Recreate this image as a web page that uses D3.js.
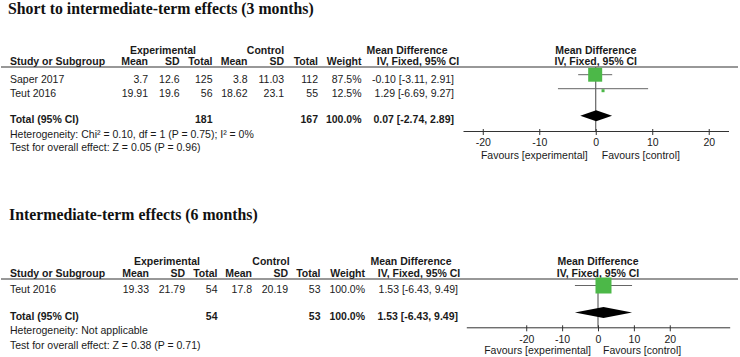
<!DOCTYPE html>
<html><head><meta charset="utf-8">
<script src="https://cdn.jsdelivr.net/npm/d3@7"></script>
<style>
html,body{margin:0;padding:0;background:#fff;}
svg{display:block;}
text{font-family:"Liberation Sans",Arial,sans-serif;font-size:10.5px;fill:#1a1a1a;}
.b{font-weight:bold;}
.title{font-family:"Liberation Serif","Times New Roman",serif;font-size:15.8px;font-weight:bold;fill:#111;}
</style></head>
<body>
<svg id="c" width="740" height="357"></svg>
<script>
// ---------- Data: panel 1 (3 months) ----------
const title3 = "Short to intermediate-term effects (3 months)";
const studies3 = ["Saper 2017", "Teut 2016"];
const expMean3 = ["3.7", "19.91"];
const expSD3 = ["12.6", "19.6"];
const expN3 = [125, 56];
const ctlMean3 = ["3.8", "18.62"];
const ctlSD3 = ["11.03", "23.1"];
const ctlN3 = [112, 55];
const weight3 = [87.5, 12.5];
const md3 = [-0.10, 1.29];
const lo3 = [-3.11, -6.69];
const hi3 = [2.91, 9.27];
const total3 = [0.07, -2.74, 2.89];   // md, lo, hi
const totalN3 = [181, 167];
const het3 = "Heterogeneity: Chi² = 0.10, df = 1 (P = 0.75); I² = 0%";
const test3 = "Test for overall effect: Z = 0.05 (P = 0.96)";

// ---------- Data: panel 2 (6 months) ----------
const title6 = "Intermediate-term effects (6 months)";
const studies6 = ["Teut 2016"];
const expMean6 = ["19.33"];
const expSD6 = ["21.79"];
const expN6 = [54];
const ctlMean6 = ["17.8"];
const ctlSD6 = ["20.19"];
const ctlN6 = [53];
const weight6 = [100.0];
const md6 = [1.53];
const lo6 = [-6.43];
const hi6 = [9.49];
const total6 = [1.53, -6.43, 9.49];
const totalN6 = [54, 53];
const het6 = "Heterogeneity: Not applicable";
const test6 = "Test for overall effect: Z = 0.38 (P = 0.71)";

const tickValues = [-20, -10, 0, 10, 20];
const favLeft = "Favours [experimental]";
const favRight = "Favours [control]";

const svg = d3.select("#c");
const fmt2 = v => v.toFixed(2);
const ci = (m, l, h) => `${fmt2(m)} [${fmt2(l)}, ${fmt2(h)}]`;

function panel(o) {
  const g = svg.append("g");
  const T = (x, y, s, anchor, cls) => g.append("text").attr("x", x).attr("y", y)
      .attr("text-anchor", anchor || "start").attr("class", cls || null).text(s);

  T(o.titleX, o.titleY, o.title, "start", "title");

  const c = o.cols;
  // group headers
  T(c.expC, o.hy1, "Experimental", "middle", "b");
  T(c.ctlC, o.hy1, "Control", "middle", "b");
  T(c.mdC, o.hy1, "Mean Difference", "middle", "b");
  // column headers
  T(10, o.hy2, "Study or Subgroup", "start", "b");
  T(c.em, o.hy2, "Mean", "end", "b");
  T(c.es, o.hy2, "SD", "end", "b");
  T(c.en, o.hy2, "Total", "end", "b");
  T(c.cm, o.hy2, "Mean", "end", "b");
  T(c.cs, o.hy2, "SD", "end", "b");
  T(c.cn, o.hy2, "Total", "end", "b");
  T(c.w, o.hy2, "Weight", "end", "b");
  T(c.ivC, o.hy2, "IV, Fixed, 95% CI", "middle", "b");

  const x = d3.scaleLinear().domain(o.domain).range(o.range);
  T(x(0), o.hy1, "Mean Difference", "middle", "b");
  T(x(0), o.hy2, "IV, Fixed, 95% CI", "middle", "b");

  // header rule
  g.append("line").attr("x1", 1).attr("x2", 738).attr("y1", o.rule).attr("y2", o.rule)
    .attr("stroke", "#333").attr("stroke-width", 1.2);

  // study rows
  o.studies.forEach((s, i) => {
    const ty = o.rowText[i];
    T(10, ty, s);
    T(c.em, ty, o.expMean[i], "end");
    T(c.es, ty, o.expSD[i], "end");
    T(c.en, ty, o.expN[i], "end");
    T(c.cm, ty, o.ctlMean[i], "end");
    T(c.cs, ty, o.ctlSD[i], "end");
    T(c.cn, ty, o.ctlN[i], "end");
    T(c.w, ty, o.weight[i].toFixed(1) + "%", "end");
    T(c.md, ty, ci(o.md[i], o.lo[i], o.hi[i]), "end");
  });

  // total row
  const ty = o.totalText;
  T(10, ty, "Total (95% CI)", "start", "b");
  T(c.en, ty, o.totalN[0], "end", "b");
  T(c.cn, ty, o.totalN[1], "end", "b");
  T(c.w, ty, "100.0%", "end", "b");
  T(c.md, ty, ci(o.total[0], o.total[1], o.total[2]), "end", "b");
  T(10, o.hetY, o.het);
  T(10, o.testY, o.test);

  // zero line
  g.append("line").attr("x1", x(0)).attr("x2", x(0)).attr("y1", o.rule).attr("y2", o.axisY)
    .attr("stroke", "#444").attr("stroke-width", 1);

  // CIs and squares
  const size = d3.scaleLinear().domain([0, 100]).range([0, 16]);
  o.studies.forEach((s, i) => {
    const yy = o.rowMark[i];
    g.append("line").attr("x1", x(o.lo[i])).attr("x2", x(o.hi[i])).attr("y1", yy).attr("y2", yy)
      .attr("stroke", "#666").attr("stroke-width", 1);
    const sz = Math.max(3, size(o.weight[i]));
    g.append("rect").attr("x", x(o.md[i]) - sz / 2).attr("y", yy - sz / 2 + (sz < 5 ? 2 : 0))
      .attr("width", sz).attr("height", sz).attr("fill", "#4cb848");
  });

  // diamond
  const dy = o.diamondY, h = 5.5;
  g.append("path").attr("d",
    `M${x(o.total[1])},${dy}L${x(o.total[0])},${dy - h}L${x(o.total[2])},${dy}L${x(o.total[0])},${dy + h}Z`)
    .attr("fill", "#000");

  // axis
  const ax = g.append("g").attr("transform", `translate(0,${o.axisY})`)
    .call(d3.axisBottom(x).tickValues(tickValues).tickSize(4).tickSizeOuter(0).tickFormat(d => String(d)));
  ax.select(".domain").attr("stroke", "#333");
  ax.selectAll(".tick line").attr("stroke", "#333").attr("y1", -2);
  ax.selectAll(".tick text").attr("y", 8).attr("dy", "0.71em")
    .style("font-family", '"Liberation Sans",Arial,sans-serif').style("font-size", "10.5px").attr("fill", "#1a1a1a");

  T(x(0) - o.favGapL, o.favY, favLeft, "end");
  T(x(0) + o.favGapR, o.favY, favRight, "start");
}

panel({
  title: title3, titleX: 8, titleY: 13.5,
  hy1: 54, hy2: 64.5, rule: 67,
  cols: {expC: 163, ctlC: 265.5, mdC: 407, ivC: 418,
         em: 148, es: 179.5, en: 212.5, cm: 247.5, cs: 284, cn: 318, w: 361.5, md: 454},
  studies: studies3, expMean: expMean3, expSD: expSD3, expN: expN3,
  ctlMean: ctlMean3, ctlSD: ctlSD3, ctlN: ctlN3, weight: weight3,
  md: md3, lo: lo3, hi: hi3, total: total3, totalN: totalN3, het: het3, test: test3,
  rowText: [83, 96.5], rowMark: [74.7, 88.7], totalText: 123, hetY: 137.5, testY: 151,
  diamondY: 115.8, axisY: 131, favY: 159,
  domain: [-23.5, 23.5], range: [463, 728.5], favGapL: 8, favGapR: 6
});

panel({
  title: title6, titleX: 9, titleY: 219.5,
  hy1: 264.5, hy2: 276.5, rule: 279,
  cols: {expC: 167, ctlC: 271, mdC: 411, ivC: 419,
         em: 149, es: 185, en: 217.5, cm: 252, cs: 288, cn: 320.5, w: 365, md: 458},
  studies: studies6, expMean: expMean6, expSD: expSD6, expN: expN6,
  ctlMean: ctlMean6, ctlSD: ctlSD6, ctlN: ctlN6, weight: weight6,
  md: md6, lo: lo6, hi: hi6, total: total6, totalN: totalN6, het: het6, test: test6,
  rowText: [293], rowMark: [285.5], totalText: 320, hetY: 334, testY: 349,
  diamondY: 312.5, axisY: 327.3, favY: 354,
  domain: [-36.7, 36.7], range: [466.3, 729.7], favGapL: 7, favGapR: 5
});
</script>
</body></html>
